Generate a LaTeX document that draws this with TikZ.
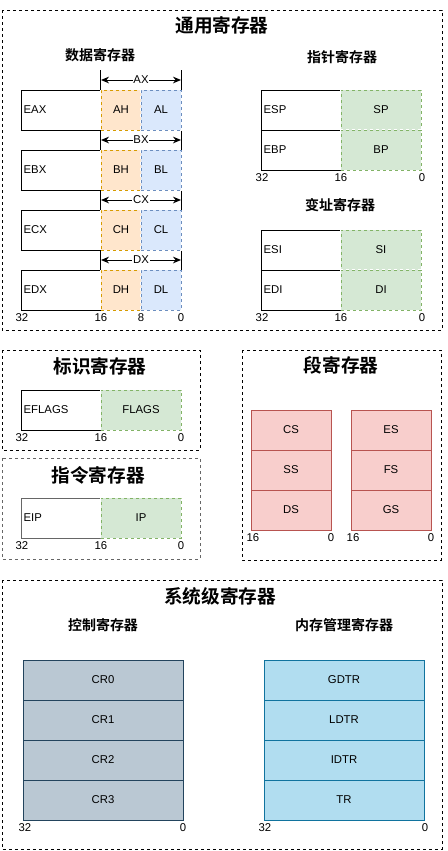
\documentclass[tikz,border=0pt]{standalone}
\usepackage{fontspec}
\setmainfont{Liberation Sans}
\newfontfamily\cjk{Noto Sans CJK SC}[BoldFont={Noto Sans CJK SC Bold}]
\usetikzlibrary{arrows.meta}

\definecolor{hiline}{HTML}{D79B00}
\definecolor{hifill}{HTML}{FFE6CC}
\definecolor{loline}{HTML}{6C8EBF}
\definecolor{lofill}{HTML}{DAE8FC}
\definecolor{wline}{HTML}{82B366}
\definecolor{wfill}{HTML}{D5E8D4}
\definecolor{segline}{HTML}{B85450}
\definecolor{segfill}{HTML}{F8CECC}
\definecolor{crline}{HTML}{23445D}
\definecolor{crfill}{HTML}{BAC8D3}
\definecolor{mmline}{HTML}{10739E}
\definecolor{mmfill}{HTML}{B1DDF0}
\definecolor{ipgray}{HTML}{666666}

\tikzset{
  group/.style={draw, line width=0.7pt, dash pattern=on 2.25pt off 2.25pt},
  grptitle/.style={font=\cjk\bfseries\fontsize{14}{16}\selectfont},
  subhead/.style={font=\cjk\bfseries\fontsize{10.5}{12}\selectfont},
  regtext/.style={font=\fontsize{8.5}{10}\selectfont},
  wide/.style={regtext, draw, line width=0.75pt, minimum height=30pt, text width=56pt, inner xsep=2pt, inner ysep=0pt, align=left},
  half/.style={regtext, line width=0.75pt, minimum height=30pt, minimum width=#1, inner sep=0pt,
    preaction={draw=white, line width=1pt}},
  hi/.style={half=30pt, draw=hiline, fill=hifill, dash pattern=on 2.25pt off 2.25pt},
  lo/.style={half=30pt, draw=loline, fill=lofill, dash pattern=on 2.25pt off 2.25pt},
  low/.style={half=60pt, draw=wline, fill=wfill, dash pattern=on 2.25pt off 2.25pt},
  seg/.style={regtext, draw=segline, fill=segfill, line width=0.75pt, minimum width=60pt, minimum height=30pt},
  ctl/.style={regtext, draw=crline, fill=crfill, line width=0.75pt, minimum width=120pt, minimum height=30pt},
  mem/.style={regtext, draw=mmline, fill=mmfill, line width=0.75pt, minimum width=120pt, minimum height=30pt},
  dim/.style={{Stealth[length=6pt,width=5pt]}-{Stealth[length=6pt,width=5pt]}, line width=0.75pt},
  dimlabel/.style={regtext, fill=white, inner sep=0.5pt},
  tick/.style={line width=0.75pt},
  bitnum/.style={regtext, inner sep=0pt}
}

\begin{document}
\begin{tikzpicture}[x=0.75pt, y=-0.75pt]
\useasboundingbox (0,0) rectangle (447,851);

% dashed groups
\draw[group] (2,10) rectangle (442,330);
\draw[group] (2,350) rectangle (200,450);
\draw[group, draw=ipgray] (2,458) rectangle (200,559);
\draw[group] (242,350) rectangle (441,560);
\draw[group] (2,580) rectangle (442,849);

% titles
\node[grptitle] (tGen) at (222,25) {通用寄存器};
\node[subhead] (tData) at (100,55) {数据寄存器};
\node[subhead] (tPtr) at (342,57) {指针寄存器};
\node[subhead] (tIdx) at (340,205) {变址寄存器};
\node[grptitle] (tFlag) at (100,366) {标识寄存器};
\node[grptitle] (tIp) at (98,475) {指令寄存器};
\node[grptitle] (tSeg) at (341,365) {段寄存器};
\node[grptitle] (tSys) at (220,596) {系统级寄存器};
\node[subhead] (tCtl) at (103,625) {控制寄存器};
\node[subhead] (tMem) at (344,625) {内存管理寄存器};

% data registers
\node[wide] (eax) at (61,110) {EAX};
\node[hi] (ah) at (121,110) {AH};
\node[lo] (al) at (161,110) {AL};
\node[wide] (ebx) at (61,170) {EBX};
\node[hi] (bh) at (121,170) {BH};
\node[lo] (bl) at (161,170) {BL};
\node[wide] (ecx) at (61,230) {ECX};
\node[hi] (ch) at (121,230) {CH};
\node[lo] (cl) at (161,230) {CL};
\node[wide] (edx) at (61,290) {EDX};
\node[hi] (dh) at (121,290) {DH};
\node[lo] (dl) at (161,290) {DL};

% 16-bit spans
\draw[tick] (ah.north west) -- ++(0,-20);
\draw[tick] (al.north east) -- ++(0,-20);
\draw[tick] (ah.south west) -- (bh.north west);
\draw[tick] (al.south east) -- (bl.north east);
\draw[tick] (bh.south west) -- (ch.north west);
\draw[tick] (bl.south east) -- (cl.north east);
\draw[tick] (ch.south west) -- (dh.north west);
\draw[tick] (cl.south east) -- (dl.north east);
\coordinate (axl) at (101,80);
\coordinate (axr) at (181,80);
\coordinate (bxl) at (101,140);
\coordinate (bxr) at (181,140);
\coordinate (cxl) at (101,200);
\coordinate (cxr) at (181,200);
\coordinate (dxl) at (101,260);
\coordinate (dxr) at (181,260);
\draw[dim] (axl) -- node[dimlabel] {AX} (axr);
\draw[dim] (bxl) -- node[dimlabel] {BX} (bxr);
\draw[dim] (cxl) -- node[dimlabel] {CX} (cxr);
\draw[dim] (dxl) -- node[dimlabel] {DX} (dxr);

\node[bitnum] (d32) at (22,317.5) {32};
\node[bitnum] (d16) at (101,317.5) {16};
\node[bitnum] (d8) at (141,317.5) {8};
\node[bitnum] (d0) at (181,317.5) {0};

% pointer registers
\node[wide] (esp) at (301,110) {ESP};
\node[low] (sp) at (381,110) {SP};
\node[wide] (ebp) at (301,150) {EBP};
\node[low] (bp) at (381,150) {BP};
\node[bitnum] (p32) at (262,177.5) {32};
\node[bitnum] (p16) at (341,177.5) {16};
\node[bitnum] (p0) at (422,177.5) {0};

% index registers
\node[wide] (esi) at (301,250) {ESI};
\node[low] (si) at (381,250) {SI};
\node[wide] (edi) at (301,290) {EDI};
\node[low] (di) at (381,290) {DI};
\node[bitnum] (i32) at (262,317.5) {32};
\node[bitnum] (i16) at (341,317.5) {16};
\node[bitnum] (i0) at (422,317.5) {0};

% flags
\node[wide] (eflags) at (61,410) {EFLAGS};
\node[low] (flags) at (141,410) {FLAGS};
\node[bitnum] (f32) at (22,437.5) {32};
\node[bitnum] (f16) at (101,437.5) {16};
\node[bitnum] (f0) at (181,437.5) {0};

% instruction pointer
\node[wide, draw=ipgray] (eip) at (61,518) {EIP};
\node[low] (ip) at (141,518) {IP};
\node[bitnum] (e32) at (22,545.5) {32};
\node[bitnum] (e16) at (101,545.5) {16};
\node[bitnum] (e0) at (181,545.5) {0};

% segment registers
\node[seg] (cs) at (291,430) {CS};
\node[seg] (ss) at (291,470) {SS};
\node[seg] (ds) at (291,510) {DS};
\node[seg] (es) at (391,430) {ES};
\node[seg] (fs) at (391,470) {FS};
\node[seg] (gs) at (391,510) {GS};
\node[bitnum] (s16) at (253,537.5) {16};
\node[bitnum] (s0) at (331,537.5) {0};
\node[bitnum] (t16) at (353,537.5) {16};
\node[bitnum] (t0) at (431,537.5) {0};

% control registers
\node[ctl] (cr0) at (103,680) {CR0};
\node[ctl] (cr1) at (103,720) {CR1};
\node[ctl] (cr2) at (103,760) {CR2};
\node[ctl] (cr3) at (103,800) {CR3};
\node[bitnum] (c32) at (25,827.5) {32};
\node[bitnum] (c0) at (183,827.5) {0};

% memory management registers
\node[mem] (gdtr) at (344,680) {GDTR};
\node[mem] (ldtr) at (344,720) {LDTR};
\node[mem] (idtr) at (344,760) {IDTR};
\node[mem] (tr) at (344,800) {TR};
\node[bitnum] (m32) at (265,827.5) {32};
\node[bitnum] (m0) at (425,827.5) {0};
\end{tikzpicture}
\end{document}
